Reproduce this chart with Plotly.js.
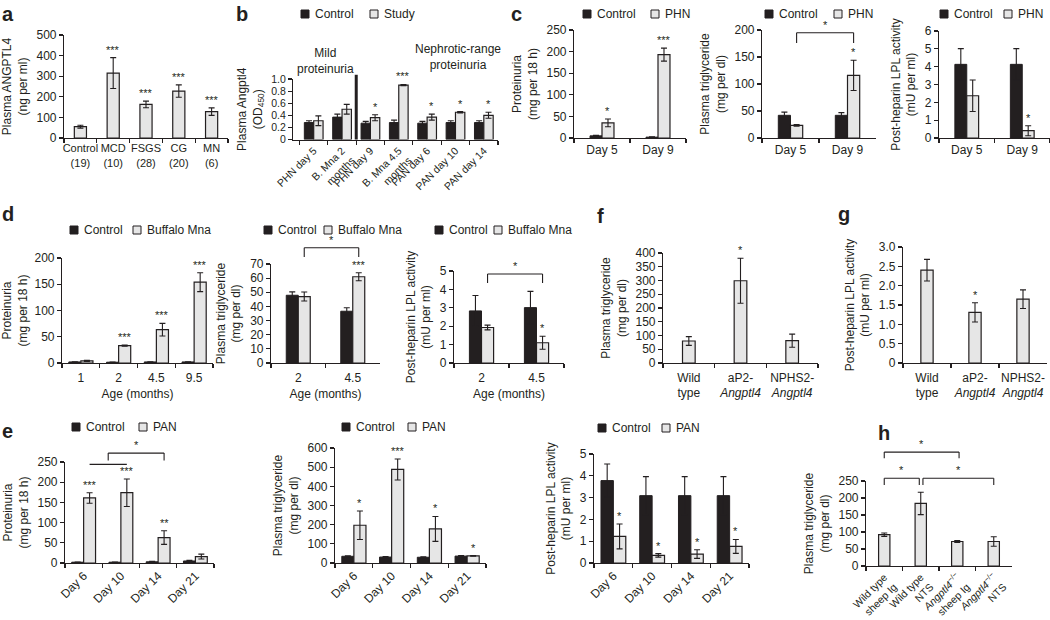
<!DOCTYPE html>
<html>
<head>
<meta charset="utf-8">
<script src="https://cdn.plot.ly/plotly-3.0.1.min.js"></script>
<style>html,body{margin:0;padding:0;background:#ffffff;}#chart{width:1050px;height:620px;}</style>
</head>
<body>
<div id="chart"></div>
<script>
// ===================== DATA =====================
// a
const aCats = ['Control<br>(19)', 'MCD<br>(10)', 'FSGS<br>(28)', 'CG<br>(20)', 'MN<br>(6)'];
const aAngptl4 = [55, 315, 163, 228, 128];
const aAngptl4Err = [7, 75, 16, 30, 18];
const aStars = ['', '***', '***', '***', '***'];
// b
const bCats = ['PHN day 5', 'B. Mna 2<br>months', 'PHN day 9', 'B. Mna 4.5<br>months', 'PAN day 6', 'PAN day 10', 'PAN day 14'];
const bControl = [0.28, 0.37, 0.27, 0.28, 0.27, 0.28, 0.28];
const bControlErr = [0.03, 0.05, 0.03, 0.04, 0.03, 0.03, 0.03];
const bStudy = [0.31, 0.50, 0.36, 0.90, 0.37, 0.45, 0.40];
const bStudyErr = [0.08, 0.08, 0.05, 0.01, 0.05, 0.01, 0.05];
const bStars = ['', '', '*', '***', '*', '*', '*'];
const bGroups = ['Mild<br>proteinuria', 'Nephrotic-range<br>proteinuria'];
// c
const cCats = ['Day 5', 'Day 9'];
const c1Control = [5, 2];       const c1ControlErr = [1, 0.5];
const c1PHN = [35, 193];        const c1PHNErr = [9, 15];
const c1Stars = ['*', '***'];
const c2Control = [42, 42];     const c2ControlErr = [6, 5];
const c2PHN = [23.5, 116];      const c2PHNErr = [1.5, 28];
const c2Stars = ['', '*'];
const c2Sig = [{from: 0, to: 1, leg: 176, top: 195, label: '*'}];
const c3Control = [4.13, 4.13]; const c3ControlErr = [0.88, 0.88];
const c3PHN = [2.37, 0.41];     const c3PHNErr = [0.88, 0.28];
const c3Stars = ['', '*'];
// d
const d1Ages = ['1', '2', '4.5', '9.5'];
const d1Control = [2, 1.5, 2, 2];   const d1ControlErr = [0.5, 0.5, 0.5, 0.5];
const d1Mna = [4, 33, 63.5, 154];   const d1MnaErr = [1, 1.2, 12, 18];
const d1Stars = ['', '***', '***', '***'];
const d23Ages = ['2', '4.5'];
const d2Control = [47.9, 36.6];     const d2ControlErr = [2.4, 2.5];
const d2Mna = [47, 61];             const d2MnaErr = [3.2, 2.8];
const d2Stars = ['', '***'];
const d2Sig = [{from: 0, to: 1, leg: 75, top: 81.5, label: '*'}];
const d3Control = [2.83, 3.01];     const d3ControlErr = [0.84, 0.88];
const d3Mna = [1.93, 1.1];          const d3MnaErr = [0.13, 0.35];
const d3Stars = ['', '*'];
const d3Sig = [{from: 0, to: 1, leg: 4.35, top: 4.84, label: '*'}];
// f, g
const fgCats = ['Wild<br>type', 'aP2-<br><i>Angptl4</i>', 'NPHS2-<br><i>Angptl4</i>'];
const fTG = [80, 299, 81];          const fTGErr = [16, 82, 24];
const fStars = ['', '*', ''];
const gLPL = [2.40, 1.31, 1.65];    const gLPLErr = [0.28, 0.25, 0.24];
const gStars = ['', '*', ''];
// e
const eCats = ['Day 6', 'Day 10', 'Day 14', 'Day 21'];
const e1Control = [2, 2, 3, 5];         const e1ControlErr = [0.5, 0.5, 1, 1.5];
const e1PAN = [161, 174, 63, 16];       const e1PANErr = [13, 34, 17, 6];
const e1Stars = ['***', '***', '**', ''];
const e1Sig = [{from: 0, to: 1, leg: 244, top: 244, label: ''},
               {from: 0.5, to: 2, leg: 254, top: 272, label: '*'}];
const e2Control = [35, 31, 30, 36];     const e2ControlErr = [3, 3, 3, 3];
const e2PAN = [197, 488, 178, 37];      const e2PANErr = [74, 55, 65, 2];
const e2Stars = ['*', '***', '*', '*'];
const e3Control = [3.78, 3.09, 3.09, 3.09]; const e3ControlErr = [0.76, 0.87, 0.87, 0.87];
const e3PAN = [1.22, 0.35, 0.41, 0.76];     const e3PANErr = [0.57, 0.08, 0.2, 0.32];
const e3Stars = ['*', '*', '*', '*'];
// h
const hCats = ['Wild type<br>sheep Ig', 'Wild type<br>NTS', '<i>Angptl4</i><sup>\u2212/\u2212</sup><br>sheep Ig', '<i>Angptl4</i><sup>\u2212/\u2212</sup><br>NTS'];
const hTG = [92, 184, 72, 72];
const hTGErr = [5, 33, 3, 14];
const hSig = [{from: 0, to: 2.05, leg: 317, top: 335, label: '*'},
              {from: 0, to: 0.96, leg: 238, top: 258, label: '*'},
              {from: 1.06, to: 3, leg: 238, top: 258, label: '*'}];

// ===================== STYLE / LAYOUT =====================
const INK = '#231f20';
const GREY = '#e6e6e6';
const FONT = '"Liberation Sans", Arial, Helvetica, sans-serif';
const W = 1050, H = 620;

const PANELS = [
 {id:'a',  x:[64,228],  y:[35,138],   yr:[0,500], dt:100, yt:'Plasma ANGPTL4<br>(ng per ml)', xfs:11},
 {id:'b',  x:[293,498], y:[79,139.5], yr:[0,1], tv:[0,0.2,0.4,0.6,0.8,1], tt:['0','0.2','0.4','0.6','0.8','1.0'], yfs:10.5, yt:'Plasma Angptl4<br>(OD<sub>450</sub>)', xr:[-0.73,6.5], angle:-45, xfs:10.5},
 {id:'c1', x:[574,686], y:[30,138],   yr:[0,250], dt:50, yt:'Proteinuria<br>(mg per 18 h)'},
 {id:'c2', x:[762,876], y:[30,138],   yr:[0,200], dt:50, yt:'Plasma triglyceride<br>(mg per dl)'},
 {id:'c3', x:[939,1050],y:[31,138],   yr:[0,6],   dt:1,  yt:'Post-heparin LPL activity<br>(mU per ml)'},
 {id:'d1', x:[62,213],  y:[258,363],  yr:[0,200], dt:50, yt:'Proteinuria<br>(mg per 18 h)', xt:'Age (months)', xls:3},
 {id:'d2', x:[271,380], y:[264,363],  yr:[0,70],  dt:10, yt:'Plasma triglyceride<br>(mg per dl)', xt:'Age (months)', xls:3},
 {id:'d3', x:[454,564], y:[271,363],  yr:[0,5],   dt:1,  yt:'Post-heparin LPL activity<br>(mU per ml)', xt:'Age (months)', xls:3},
 {id:'f',  x:[663,818], y:[253,363],  yr:[0,400], dt:50, yt:'Plasma triglyceride<br>(mg per dl)', xls:3},
 {id:'g',  x:[903,1047],y:[247,363],  yr:[0,3], tv:[0,0.5,1,1.5,2,2.5,3], tt:['0','0.5','1.0','1.5','2.0','2.5','3.0'], yt:'Post-heparin LPL activity<br>(mU per ml)', xls:3},
 {id:'e1', x:[65,214],  y:[462,563],  yr:[0,250], dt:50, yt:'Proteinuria<br>(mg per 18 h)', angle:-45},
 {id:'e2', x:[335,486], y:[448,563],  yr:[0,600], dt:100, yt:'Plasma triglyceride<br>(mg per dl)', angle:-45},
 {id:'e3', x:[594,749], y:[454,563],  yr:[0,5],   dt:1,  yt:'Post-heparin LPL activity<br>(mU per ml)', angle:-45},
 {id:'h',  x:[866,1012],y:[481,566],  yr:[0,250], dt:50, yt:'Plasma triglyceride<br>(mg per dl)', angle:-45, xfs:10.5}
];

const LEGENDS = [
 {p:'b',  x1:301, x2:370,  y:14,  l2:'Study'},
 {p:'c1', x1:583, x2:651,  y:14,  l2:'PHN'},
 {p:'c2', x1:765, x2:834,  y:14,  l2:'PHN'},
 {p:'c3', x1:940, x2:1004, y:14,  l2:'PHN'},
 {p:'d1', x1:70,  x2:133,  y:230, l2:'Buffalo Mna'},
 {p:'d2', x1:264, x2:324,  y:230, l2:'Buffalo Mna'},
 {p:'d3', x1:435, x2:494,  y:230, l2:'Buffalo Mna'},
 {p:'e1', x1:72,  x2:139,  y:427, l2:'PAN'},
 {p:'e2', x1:342, x2:408,  y:427, l2:'PAN'},
 {p:'e3', x1:598, x2:662,  y:428, l2:'PAN'}
];

const LETTERS = [
 {t:'a', x:0, y:1}, {t:'b', x:234, y:1}, {t:'c', x:509, y:1},
 {t:'d', x:0, y:201}, {t:'f', x:595, y:203}, {t:'g', x:836, y:201},
 {t:'e', x:0, y:418}, {t:'h', x:876, y:420}
];

const layout = {
  width: W, height: H, margin: {l:0, r:0, t:0, b:0},
  paper_bgcolor: '#ffffff', plot_bgcolor: 'rgba(0,0,0,0)',
  barmode: 'overlay', showlegend: false, hovermode: false,
  font: {family: FONT, size: 12, color: INK},
  shapes: [], annotations: []
};
const traces = [];
const P = {};

const axisBase = {
  showline: true, linecolor: INK, linewidth: 1.1, mirror: false,
  ticks: 'outside', ticklen: 4, tickwidth: 1.1, tickcolor: INK,
  showgrid: false, zeroline: false, fixedrange: true
};

PANELS.forEach((p, i) => {
  const sfx = i === 0 ? '' : String(i + 1);
  p.xid = 'x' + sfx; p.yid = 'y' + sfx; p.xkey = 'xaxis' + sfx;
  P[p.id] = p;
  const xa = Object.assign({}, axisBase, {
    type: 'category', anchor: p.yid,
    domain: [p.x[0] / W, p.x[1] / W],
    tickson: 'boundaries', tickangle: p.angle || 0,
    ticklabelstandoff: p.xls || 0,
    tickfont: {family: FONT, size: p.xfs || 12, color: INK}
  });
  if (p.xr) xa.range = p.xr;
  if (p.xt) xa.title = {text: p.xt, font: {family: FONT, size: 12, color: INK}, standoff: 6};
  const ya = Object.assign({}, axisBase, {
    anchor: p.xid,
    domain: [1 - p.y[1] / H, 1 - p.y[0] / H],
    range: p.yr,
    tickfont: {family: FONT, size: p.yfs || 12, color: INK},
    title: {text: p.yt, font: {family: FONT, size: 12, color: INK}, standoff: 6}
  });
  if (p.tv) { ya.tickmode = 'array'; ya.tickvals = p.tv; ya.ticktext = p.tt; }
  else { ya.tickmode = 'linear'; ya.tick0 = 0; ya.dtick = p.dt; }
  layout[p.xkey] = xa;
  layout['yaxis' + sfx] = ya;
});

function errObj(arr) {
  return {type: 'data', array: arr, visible: true, color: INK, thickness: 1.1, width: 3};
}
function setRange(p, cats) {
  if (!p.xr) layout[p.xkey].range = [-0.5, cats.length - 0.5];
}
function single(p, cats, vals, errs, w) {
  setRange(p, cats);
  traces.push({type: 'bar', x: cats, y: vals, width: w, xaxis: p.xid, yaxis: p.yid,
    marker: {color: GREY, line: {color: INK, width: 1.2}}, error_y: errObj(errs),
    showlegend: false, hoverinfo: 'skip'});
}
function pair(p, cats, c, ce, s, se, w) {
  setRange(p, cats);
  traces.push({type: 'bar', x: cats, y: c, width: w, offset: -w, xaxis: p.xid, yaxis: p.yid,
    marker: {color: INK, line: {color: INK, width: 1}}, error_y: errObj(ce),
    showlegend: false, hoverinfo: 'skip'});
  traces.push({type: 'bar', x: cats, y: s, width: w, offset: 0, xaxis: p.xid, yaxis: p.yid,
    marker: {color: GREY, line: {color: INK, width: 1.2}}, error_y: errObj(se),
    showlegend: false, hoverinfo: 'skip'});
}
function stars(p, vals, errs, labels, dx) {
  labels.forEach((s, i) => {
    if (!s) return;
    layout.annotations.push({xref: p.xid, yref: p.yid + ' domain', x: i + dx,
      y: (vals[i] + errs[i]) / p.yr[1], text: s, showarrow: false,
      xanchor: 'center', yanchor: 'bottom', yshift: 0,
      font: {family: FONT, size: 11, color: INK}});
  });
}
function brackets(p, sig, dx) {
  const f = v => v / p.yr[1];
  sig.forEach(b => {
    const x0 = b.from + dx, x1 = b.to + dx;
    const base = {type: 'line', xref: p.xid, yref: p.yid + ' domain', line: {color: INK, width: 1.1}};
    layout.shapes.push(Object.assign({}, base, {x0: x0, x1: x1, y0: f(b.top), y1: f(b.top)}));
    if (b.leg !== b.top) {
      layout.shapes.push(Object.assign({}, base, {x0: x0, x1: x0, y0: f(b.leg), y1: f(b.top)}));
      layout.shapes.push(Object.assign({}, base, {x0: x1, x1: x1, y0: f(b.leg), y1: f(b.top)}));
    }
    if (b.label) layout.annotations.push({xref: p.xid, yref: p.yid + ' domain', x: (x0 + x1) / 2,
      y: f(b.top), text: b.label, showarrow: false, xanchor: 'center', yanchor: 'bottom', yshift: 0,
      font: {family: FONT, size: 11, color: INK}});
  });
}

// ---- build panels ----
single(P.a, aCats, aAngptl4, aAngptl4Err, 0.37);
stars(P.a, aAngptl4, aAngptl4Err, aStars, 0);

const wB = 0.33;
pair(P.b, bCats, bControl, bControlErr, bStudy, bStudyErr, wB);
stars(P.b, bStudy, bStudyErr, bStars, wB / 2);
layout.shapes.push({type: 'line', xref: P.b.xid, yref: P.b.yid + ' domain', x0: 1.5, x1: 1.5, y0: 0, y1: 1.07, line: {color: INK, width: 3}});
layout.annotations.push({xref: P.b.xid, yref: P.b.yid + ' domain', x: 0.4, y: 1.3, text: bGroups[0], showarrow: false, xanchor: 'center', yanchor: 'middle', font: {family: FONT, size: 12, color: INK}});
layout.annotations.push({xref: P.b.xid, yref: P.b.yid + ' domain', x: 5.08, y: 1.37, text: bGroups[1], showarrow: false, xanchor: 'center', yanchor: 'middle', font: {family: FONT, size: 12, color: INK}});

const wC = 0.214;
pair(P.c1, cCats, c1Control, c1ControlErr, c1PHN, c1PHNErr, wC);
stars(P.c1, c1PHN, c1PHNErr, c1Stars, wC / 2);
pair(P.c2, cCats, c2Control, c2ControlErr, c2PHN, c2PHNErr, wC);
stars(P.c2, c2PHN, c2PHNErr, c2Stars, wC / 2);
brackets(P.c2, c2Sig, wC / 2);
pair(P.c3, cCats, c3Control, c3ControlErr, c3PHN, c3PHNErr, wC);
stars(P.c3, c3PHN, c3PHNErr, c3Stars, wC / 2);

const wD1 = 0.32, wD = 0.22;
pair(P.d1, d1Ages, d1Control, d1ControlErr, d1Mna, d1MnaErr, wD1);
stars(P.d1, d1Mna, d1MnaErr, d1Stars, wD1 / 2);
pair(P.d2, d23Ages, d2Control, d2ControlErr, d2Mna, d2MnaErr, wD);
stars(P.d2, d2Mna, d2MnaErr, d2Stars, wD / 2);
brackets(P.d2, d2Sig, wD / 2);
pair(P.d3, d23Ages, d3Control, d3ControlErr, d3Mna, d3MnaErr, wD);
stars(P.d3, d3Mna, d3MnaErr, d3Stars, wD / 2);
brackets(P.d3, d3Sig, wD / 2);

single(P.f, fgCats, fTG, fTGErr, 0.245);
stars(P.f, fTG, fTGErr, fStars, 0);
single(P.g, fgCats, gLPL, gLPLErr, 0.256);
stars(P.g, gLPL, gLPLErr, gStars, 0);

const wE = 0.32;
pair(P.e1, eCats, e1Control, e1ControlErr, e1PAN, e1PANErr, wE);
stars(P.e1, e1PAN, e1PANErr, e1Stars, wE / 2);
brackets(P.e1, e1Sig, wE / 2);
pair(P.e2, eCats, e2Control, e2ControlErr, e2PAN, e2PANErr, wE);
stars(P.e2, e2PAN, e2PANErr, e2Stars, wE / 2);
pair(P.e3, eCats, e3Control, e3ControlErr, e3PAN, e3PANErr, wE);
stars(P.e3, e3PAN, e3PANErr, e3Stars, wE / 2);

single(P.h, hCats, hTG, hTGErr, 0.31);
brackets(P.h, hSig, 0);

// ---- legends (icon + text) ----
LEGENDS.forEach(L => {
  const s = 8;
  const box = (x, fill) => ({type: 'rect', xref: 'paper', yref: 'paper',
    x0: x / W, x1: (x + s) / W, y0: 1 - (L.y + s / 2) / H, y1: 1 - (L.y - s / 2) / H,
    fillcolor: fill, line: {color: INK, width: 1}});
  layout.shapes.push(box(L.x1, INK));
  layout.shapes.push(box(L.x2, GREY));
  const txt = (x, t) => ({xref: 'paper', yref: 'paper', x: (x + s + 4) / W, y: 1 - L.y / H,
    text: t, showarrow: false, xanchor: 'left', yanchor: 'middle',
    font: {family: FONT, size: 12, color: INK}});
  layout.annotations.push(txt(L.x1, 'Control'));
  layout.annotations.push(txt(L.x2, L.l2));
});

// ---- panel letters ----
LETTERS.forEach(l => {
  layout.annotations.push({xref: 'paper', yref: 'paper', x: l.x / W, y: 1 - l.y / H,
    text: '<b>' + l.t + '</b>', showarrow: false, xanchor: 'left', yanchor: 'top',
    font: {family: FONT, size: 20, color: INK}});
});

Plotly.newPlot('chart', traces, layout, {staticPlot: true, displayModeBar: false});
</script>
</body>
</html>
